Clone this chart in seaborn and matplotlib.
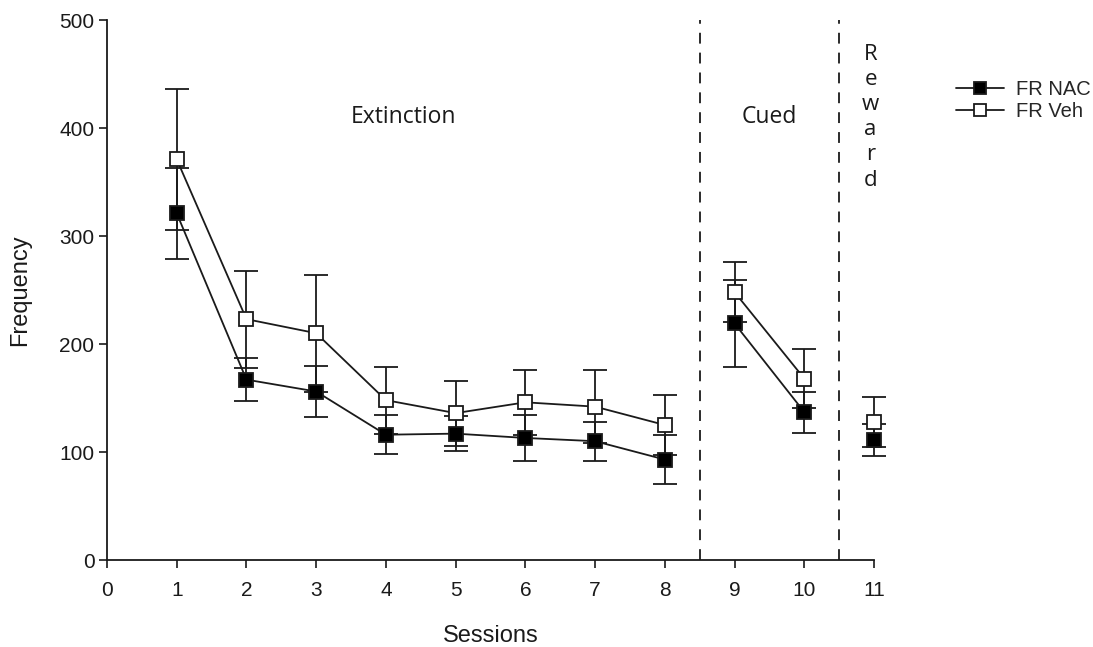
import numpy as np
import pandas as pd
import matplotlib
matplotlib.use("Agg")
import matplotlib.pyplot as plt
from matplotlib.lines import Line2D
import seaborn as sns

# Session data (mean and SEM) for both treatment groups
sessions = [1, 2, 3, 4, 5, 6, 7, 8, 9, 10, 11]
phase = ["Extinction"] * 8 + ["Cued"] * 2 + ["Reward"]
nac_mean = [321, 167, 156, 116, 117, 113, 110, 93, 219, 137, 111]
nac_sem = [42, 20, 24, 18, 16, 21, 18, 23, 40, 19, 15]
veh_mean = [371, 223, 210, 148, 136, 146, 142, 125, 248, 168, 128]
veh_sem = [65, 45, 54, 31, 30, 30, 34, 28, 28, 27, 23]
xticks = list(range(0, 12))
yticks = [0, 100, 200, 300, 400, 500]
phase_labels = ["Extinction", "Cued", "Reward"]
phase_bounds = [8.5, 10.5]

sns.set_style("ticks")
plt.rcParams["font.family"] = ["Liberation Sans", "DejaVu Sans"]

df = pd.concat([
    pd.DataFrame({"Sessions": sessions, "Frequency": nac_mean, "sem": nac_sem,
                  "group": "FR NAC", "phase": phase}),
    pd.DataFrame({"Sessions": sessions, "Frequency": veh_mean, "sem": veh_sem,
                  "group": "FR Veh", "phase": phase}),
], ignore_index=True)

fig = plt.figure(figsize=(10.93, 6.47), dpi=100)
ax = fig.add_axes([107 / 1093, 1 - 560 / 647, (874 - 107) / 1093, (560 - 20) / 647])

ink = "#1a1a1a"
styles = {"FR NAC": "black", "FR Veh": "white"}
for grp, face in styles.items():
    sub = df[df["group"] == grp]
    ax.errorbar(sub["Sessions"], sub["Frequency"], yerr=sub["sem"], fmt="none",
                ecolor=ink, elinewidth=1.3, capsize=8.5, capthick=1.3,
                zorder=2, clip_on=False)
for grp, face in styles.items():
    sub = df[df["group"] == grp]
    sns.lineplot(data=sub, x="Sessions", y="Frequency", units="phase",
                 estimator=None, sort=True, color=ink, linewidth=1.3,
                 marker="s", markersize=9.5, markerfacecolor=face,
                 markeredgecolor=ink, markeredgewidth=1.3,
                 ax=ax, zorder=3, clip_on=False, legend=False)

# Phase separators
for xb in phase_bounds:
    ax.axvline(xb, ymin=0, ymax=1, color=ink, linestyle=(0, (6, 5)),
               linewidth=1.3, zorder=1)

txt_font = ["Open Sans", "DejaVu Sans"]
ax.text(4.25, 410, phase_labels[0], ha="center", va="center", fontsize=16.5,
        family=txt_font, color=ink)
ax.text(9.5, 410, phase_labels[1], ha="center", va="center", fontsize=16.5,
        family=txt_font, color=ink)
ax.text(10.95, 410, "\n".join(phase_labels[2]), ha="center", va="center",
        fontsize=16, family=txt_font, color=ink, linespacing=1.26)

ax.set_xlim(0, 11)
ax.set_ylim(0, 500)
ax.set_xticks(xticks)
ax.set_yticks(yticks)
ax.tick_params(axis="both", labelsize=15, length=6, width=1.2, color=ink,
               labelcolor=ink)
ax.tick_params(axis="x", pad=9)
ax.tick_params(axis="y", pad=3)
ax.set_xlabel("Sessions", fontsize=17, labelpad=18, color=ink)
ax.set_ylabel("Frequency", fontsize=17, labelpad=20, color=ink)
sns.despine(ax=ax)
for sp in ("left", "bottom"):
    ax.spines[sp].set_linewidth(1.3)
    ax.spines[sp].set_color(ink)

handles = [
    Line2D([], [], color=ink, lw=1.3, marker="s", markersize=9,
           markerfacecolor=face, markeredgecolor=ink, markeredgewidth=1.3)
    for face in styles.values()
]
fig.legend(handles, list(styles.keys()), loc="upper right",
           bbox_to_anchor=(1091 / 1093, 1 - 80 / 647), frameon=False,
           borderaxespad=0, borderpad=0,
           fontsize=14.5, handlelength=2.4, handletextpad=0.6, labelspacing=0.15)

fig.savefig("out.png", dpi=100, facecolor="white")
